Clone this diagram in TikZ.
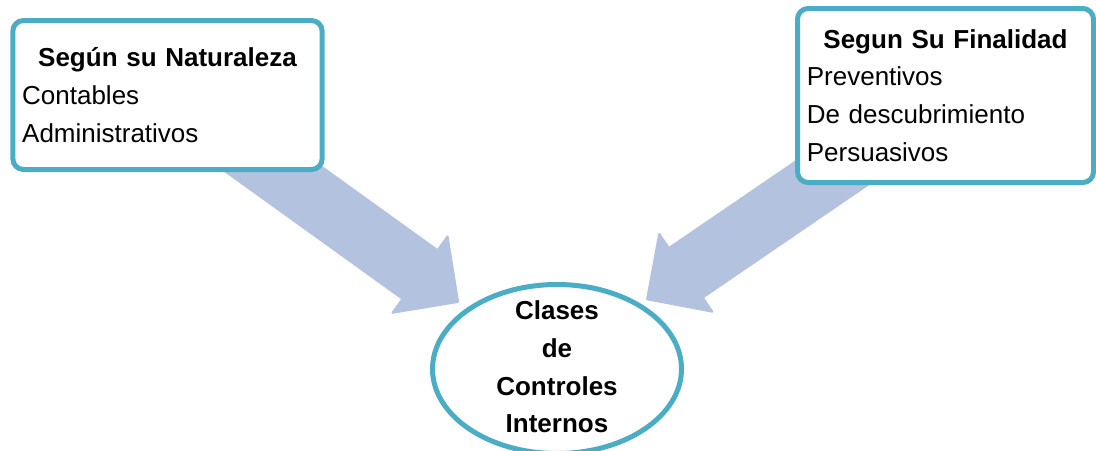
\documentclass[tikz,border=0pt]{standalone}
\usepackage{fontspec}
\setmainfont{Liberation Sans}
\usetikzlibrary{arrows.meta,shapes.geometric,positioning,backgrounds}
\definecolor{rimteal}{RGB}{75,172,198}
\definecolor{arrowblue}{RGB}{179,194,222}

\begin{document}
\begin{tikzpicture}[
    x=0.75pt, y=-0.75pt,
    font=\fontsize{19.5}{28.3}\selectfont,
    catbox/.style={rectangle, draw=rimteal, line width=3.75pt, rounded corners=8pt, fill=white, inner xsep=7pt, inner ysep=0pt, align=left},
    core/.style={ellipse, draw=rimteal, line width=3.75pt, fill=white, minimum width=186.75pt, minimum height=126.75pt},
    bigarrow/.style={draw=arrowblue, line width=46.5pt, -{Triangle[width=74pt, length=37pt, line width=1.5pt, round]}}
]
    \useasboundingbox (0,0) rectangle (1096,450);

    % --- Left: naturaleza ---
    \node[catbox, text width=218pt, minimum height=111.75pt] (nat) at (167.5,95)
        {\makebox[\linewidth]{\bfseries Según su Naturaleza}\\Contables\\Administrativos};

    % --- Right: finalidad ---
    \node[catbox, text width=208pt, minimum height=130.5pt] (fin) at (945.5,95.5)
        {\makebox[\linewidth]{\bfseries Segun Su Finalidad}\\Preventivos\\De descubrimiento\\Persuasivos};

    % --- Centre ---
    \node[core] (clases) at (557,369) {};
    \node[font=\fontsize{19.5}{28.3}\selectfont\bfseries, align=center, inner sep=0pt] (clasesText) at (557,367)
        {Clases\\de\\Controles\\Internos};

    % Block arrows (behind the boxes)
    \coordinate (natTail) at (233,140);
    \coordinate (finTail) at (870,147);
    \begin{scope}[on background layer]
        \draw[bigarrow, shorten >=7pt] (natTail) -- (clases.146);
        \draw[bigarrow, shorten >=5pt] (finTail) -- (clases.38);
    \end{scope}

\end{tikzpicture}
\end{document}
